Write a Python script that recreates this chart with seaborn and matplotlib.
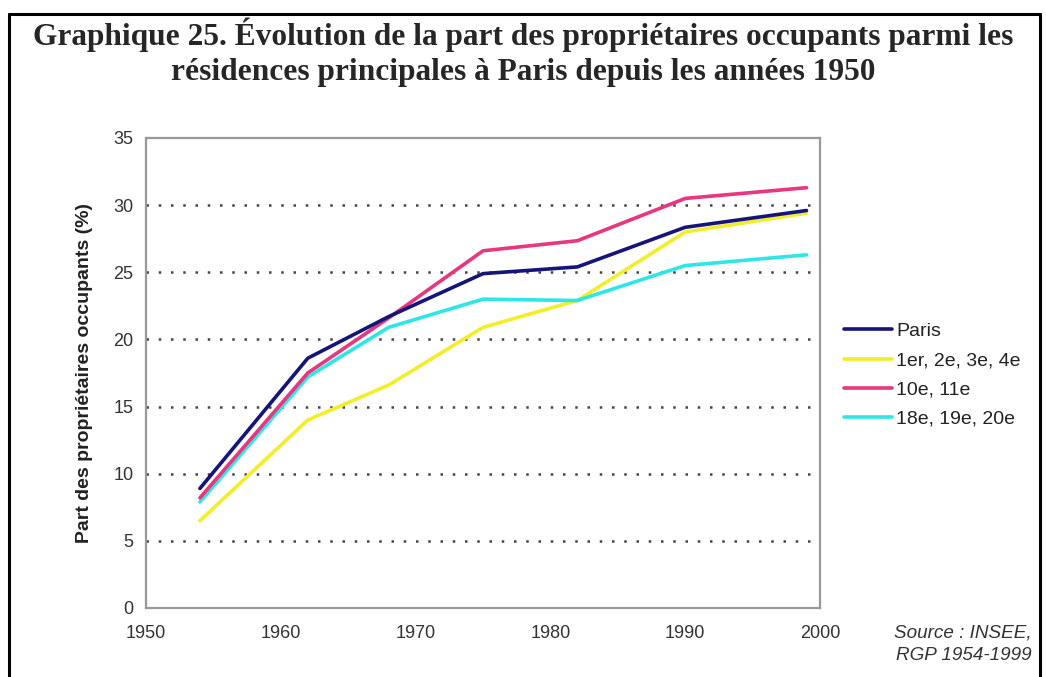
import matplotlib
matplotlib.use("Agg")
import matplotlib.pyplot as plt
import seaborn as sns
import pandas as pd
from matplotlib.lines import Line2D

# Census years and share of owner-occupiers (%) per area
years = [1954, 1962, 1968, 1975, 1982, 1990, 1999]
paris = [8.9, 18.6, 21.7, 24.9, 25.4, 28.35, 29.6]
centre_1_4 = [6.5, 14.0, 16.6, 20.9, 22.9, 28.0, 29.4]
arr_10_11 = [8.2, 17.5, 21.6, 26.6, 27.35, 30.5, 31.3]
arr_18_20 = [7.9, 17.2, 20.9, 23.0, 22.9, 25.5, 26.3]

series_names = ["Paris", "1er, 2e, 3e, 4e", "10e, 11e", "18e, 19e, 20e"]
series_values = [paris, centre_1_4, arr_10_11, arr_18_20]
series_colors = ["#14147a", "#f2ee2a", "#e8367f", "#2ee6e6"]

y_ticks = [0, 5, 10, 15, 20, 25, 30, 35]
x_ticks = [1950, 1960, 1970, 1980, 1990, 2000]

df = pd.DataFrame(
    [(y, v, name) for name, vals in zip(series_names, series_values) for y, v in zip(years, vals)],
    columns=["annee", "part", "zone"],
)

sns.set_style("white")
plt.rcParams["font.family"] = ["Liberation Sans", "DejaVu Sans"]

W, H = 1046, 677
fig = plt.figure(figsize=(W / 100, H / 100), dpi=100)
ax = fig.add_axes([146 / W, 1 - 608 / H, (820 - 146) / W, (608 - 138) / H])

# Yellow first so the other lines sit above it where they overlap
order = [1, 3, 2, 0]
palette = dict(zip(series_names, series_colors))
for i in order:
    name = series_names[i]
    sns.lineplot(
        data=df[df["zone"] == name], x="annee", y="part",
        color=palette[name], linewidth=2.6, ax=ax, legend=False,
    )

ax.set_xlim(1950, 2000)
ax.set_ylim(0, 35)
ax.set_xticks(x_ticks)
ax.set_yticks(y_ticks)
ax.tick_params(axis="both", labelsize=13, colors="#333333", length=4, width=1.2,
               direction="out", color="#999999")
ax.tick_params(axis="x", pad=8)
ax.tick_params(axis="y", pad=5)
ax.set_xlabel("")
ax.set_ylabel("Part des propriétaires occupants (%)", fontsize=14,
              fontweight="bold", color="#222222")
ax.yaxis.set_label_coords(-(146 - 93) / (820 - 146), 0.5)

for yv in y_ticks[1:-1]:
    ax.axhline(yv, color="#444444", linestyle=(0, (1, 3.9)), linewidth=1.8, zorder=0)

for sp in ax.spines.values():
    sp.set_visible(True)
    sp.set_color("#999999")
    sp.set_linewidth(1.6)

handles = [Line2D([0], [0], color=c, linewidth=2.6) for c in series_colors]
fig.legend(handles, series_names, loc="upper left",
           bbox_to_anchor=(826 / W, 1 - 305 / H), frameon=False,
           fontsize=14, handlelength=2.5, handletextpad=0.2, labelspacing=0.6,
           labelcolor="#222222")

title_font = ["Liberation Serif", "DejaVu Serif"]
fig.text(0.5, 1 - 45 / H,
         "Graphique 25. Évolution de la part des propriétaires occupants parmi les",
         ha="center", va="baseline", fontsize=22.6, fontweight="bold", family=title_font)
fig.text(0.5, 1 - 80 / H,
         "résidences principales à Paris depuis les années 1950",
         ha="center", va="baseline", fontsize=22.6, fontweight="bold", family=title_font)

fig.text(1032 / W, 1 - 633 / H, "Source : INSEE,", ha="right", va="center",
         fontsize=13.6, style="italic", color="#333333")
fig.text(1032 / W, 1 - 656 / H, "RGP 1954-1999", ha="right", va="center",
         fontsize=13.6, style="italic", color="#333333")

# Outer frame, open at the bottom
top = 1 - 14 / H
for xs, ys in [([9 / W, 9 / W], [0, top]),
               ([1040 / W, 1040 / W], [0, top]),
               ([9 / W, 1040 / W], [top, top])]:
    fig.add_artist(Line2D(xs, ys, color="black", linewidth=2.2, transform=fig.transFigure))

fig.savefig("out.png", dpi=100)
